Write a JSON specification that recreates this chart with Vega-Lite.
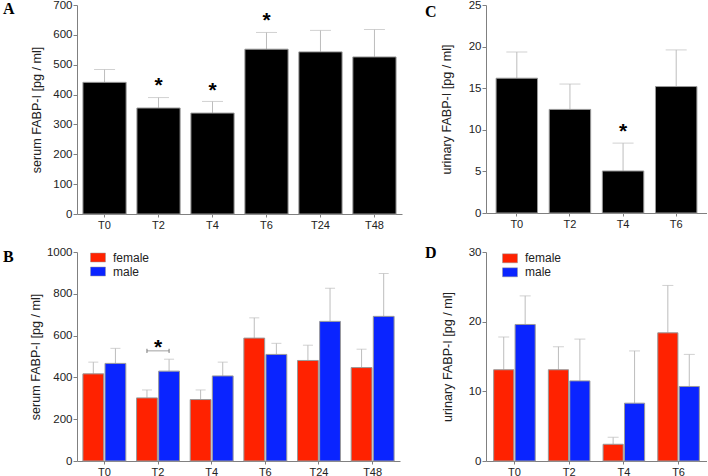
{
  "$schema": "https://vega.github.io/schema/vega-lite/v6.json",
  "padding": {"left": 3, "top": -1, "right": 0, "bottom": 0},
  "background": "white",
  "config": {
    "view": {"stroke": null},
    "axis": {
      "domainColor": "#808080", "tickColor": "#808080", "grid": false,
      "labelFont": "Liberation Sans", "labelFontSize": 11.5, "labelColor": "#222",
      "titleFont": "Liberation Sans", "titleFontSize": 12.6, "titleFontWeight": "normal", "titleColor": "#222",
      "tickSize": 4, "labelPadding": 1, "labelOverlap": false
    },
    "axisY": {"format": "d"},
    "axisX": {"labelAngle": 0, "tickSize": 3, "labelPadding": 2, "labelFontSize": 11},
    "title": {"font": "Liberation Serif", "fontSize": 16, "fontWeight": "bold", "color": "#000", "anchor": "start", "frame": "group", "offset": 0, "baseline": "alphabetic"}
  },
  "datasets": {
    "serumA": [
      {"t": "T0", "v": 441, "e": 484},
      {"t": "T2", "v": 355, "e": 390},
      {"t": "T4", "v": 338, "e": 377},
      {"t": "T6", "v": 552, "e": 608},
      {"t": "T24", "v": 543, "e": 615},
      {"t": "T48", "v": 526, "e": 618}
    ],
    "starsA": [
      {"t": "T2", "y": 448},
      {"t": "T4", "y": 431},
      {"t": "T6", "y": 665}
    ],
    "urineC": [
      {"t": "T0", "v": 16.2, "e": 19.35},
      {"t": "T2", "v": 12.45, "e": 15.5},
      {"t": "T4", "v": 5.05, "e": 8.4},
      {"t": "T6", "v": 15.2, "e": 19.6}
    ],
    "starsC": [
      {"t": "T4", "y": 10.4}
    ],
    "serumB": [
      {"t": "T0", "g": "female", "v": 417, "e": 473},
      {"t": "T0", "g": "male", "v": 467, "e": 539},
      {"t": "T2", "g": "female", "v": 302, "e": 340},
      {"t": "T2", "g": "male", "v": 430, "e": 487},
      {"t": "T4", "g": "female", "v": 294, "e": 340},
      {"t": "T4", "g": "male", "v": 407, "e": 473},
      {"t": "T6", "g": "female", "v": 588, "e": 685},
      {"t": "T6", "g": "male", "v": 510, "e": 563},
      {"t": "T24", "g": "female", "v": 481, "e": 554},
      {"t": "T24", "g": "male", "v": 668, "e": 827},
      {"t": "T48", "g": "female", "v": 447, "e": 535},
      {"t": "T48", "g": "male", "v": 692, "e": 897}
    ],
    "bracketB": [
      {"t": "T2", "g": "female", "y1": 537, "y2": 517},
      {"t": "T2", "g": "male", "y1": 537, "y2": 517}
    ],
    "barB": [
      {"t": "T2", "y": 527}
    ],
    "starsB": [
      {"t": "T2", "y": 570}
    ],
    "urineD": [
      {"t": "T0", "g": "female", "v": 13.1, "e": 17.8},
      {"t": "T0", "g": "male", "v": 19.6, "e": 23.7},
      {"t": "T2", "g": "female", "v": 13.1, "e": 16.4},
      {"t": "T2", "g": "male", "v": 11.5, "e": 17.5},
      {"t": "T4", "g": "female", "v": 2.4, "e": 3.4},
      {"t": "T4", "g": "male", "v": 8.3, "e": 15.8},
      {"t": "T6", "g": "female", "v": 18.4, "e": 25.2},
      {"t": "T6", "g": "male", "v": 10.7, "e": 15.3}
    ]
  },
  "columns": 2,
  "bounds": "flush",
  "align": "each",
  "spacing": {"row": 38, "column": 84},
  "resolve": {"scale": {"x": "independent", "y": "independent", "color": "independent", "xOffset": "independent"}, "legend": {"color": "independent"}},
  "concat": [
    {
      "width": 325, "height": 209,
      "title": {"text": "A", "dx": -74, "dy": 22},
      "layer": [
        {
          "data": {"name": "serumA"},
          "mark": {"type": "rule", "color": "#bdbdbd", "strokeWidth": 1},
          "encoding": {
            "x": {"field": "t", "type": "nominal", "scale": {"domain": ["T0", "T2", "T4", "T6", "T24", "T48"], "paddingInner": 0.2, "paddingOuter": 0.11}, "axis": {"title": null}},
            "y": {"field": "v", "type": "quantitative", "scale": {"domain": [0, 700], "nice": false}, "axis": {"title": "serum FABP-I [pg / ml]", "values": [0, 100, 200, 300, 400, 500, 600, 700], "titlePadding": 9}},
            "y2": {"field": "e"}
          }
        },
        {
          "data": {"name": "serumA"},
          "mark": {"type": "tick", "color": "#bdbdbd", "size": 21, "thickness": 1},
          "encoding": {
            "x": {"field": "t", "type": "nominal"},
            "y": {"field": "e", "type": "quantitative", "axis": {"title": "serum FABP-I [pg / ml]", "values": [0, 100, 200, 300, 400, 500, 600, 700], "titlePadding": 9}}
          }
        },
        {
          "data": {"name": "serumA"},
          "mark": {"type": "bar", "color": "#000", "stroke": "#999", "strokeWidth": 1},
          "encoding": {
            "x": {"field": "t", "type": "nominal"},
            "y": {"field": "v", "type": "quantitative", "axis": {"title": "serum FABP-I [pg / ml]", "values": [0, 100, 200, 300, 400, 500, 600, 700], "titlePadding": 9}}
          }
        },
        {
          "data": {"name": "starsA"},
          "mark": {"type": "text", "text": "*", "font": "Liberation Sans", "fontSize": 21, "fontWeight": "bold", "baseline": "alphabetic", "dy": 12, "color": "#000"},
          "encoding": {
            "x": {"field": "t", "type": "nominal"},
            "y": {"field": "y", "type": "quantitative", "axis": {"title": "serum FABP-I [pg / ml]", "values": [0, 100, 200, 300, 400, 500, 600, 700], "titlePadding": 9}}
          }
        }
      ]
    },
    {
      "width": 221, "height": 208,
      "title": {"text": "C", "dx": -61, "dy": 25},
      "layer": [
        {
          "data": {"name": "urineC"},
          "mark": {"type": "rule", "color": "#bdbdbd", "strokeWidth": 1},
          "encoding": {
            "x": {"field": "t", "type": "nominal", "scale": {"domain": ["T0", "T2", "T4", "T6"], "paddingInner": 0.22, "paddingOuter": 0.19}, "axis": {"title": null}},
            "y": {"field": "v", "type": "quantitative", "scale": {"domain": [0, 25], "nice": false}, "axis": {"title": "urinary FABP-I [pg / ml]", "values": [0, 5, 10, 15, 20, 25], "titlePadding": 15}},
            "y2": {"field": "e"}
          }
        },
        {
          "data": {"name": "urineC"},
          "mark": {"type": "tick", "color": "#bdbdbd", "size": 21, "thickness": 1},
          "encoding": {
            "x": {"field": "t", "type": "nominal"},
            "y": {"field": "e", "type": "quantitative", "axis": {"title": "urinary FABP-I [pg / ml]", "values": [0, 5, 10, 15, 20, 25], "titlePadding": 15}}
          }
        },
        {
          "data": {"name": "urineC"},
          "mark": {"type": "bar", "color": "#000", "stroke": "#999", "strokeWidth": 1},
          "encoding": {
            "x": {"field": "t", "type": "nominal"},
            "y": {"field": "v", "type": "quantitative", "axis": {"title": "urinary FABP-I [pg / ml]", "values": [0, 5, 10, 15, 20, 25], "titlePadding": 15}}
          }
        },
        {
          "data": {"name": "starsC"},
          "mark": {"type": "text", "text": "*", "font": "Liberation Sans", "fontSize": 21, "fontWeight": "bold", "baseline": "alphabetic", "dy": 12, "color": "#000"},
          "encoding": {
            "x": {"field": "t", "type": "nominal"},
            "y": {"field": "y", "type": "quantitative", "axis": {"title": "urinary FABP-I [pg / ml]", "values": [0, 5, 10, 15, 20, 25], "titlePadding": 15}}
          }
        }
      ]
    },
    {
      "width": 323, "height": 209,
      "title": {"text": "B", "dx": -74, "dy": 23},
      "layer": [
        {
          "data": {"name": "serumB"},
          "mark": {"type": "rule", "color": "#bdbdbd", "strokeWidth": 1},
          "encoding": {
            "x": {"field": "t", "type": "nominal", "scale": {"domain": ["T0", "T2", "T4", "T6", "T24", "T48"], "paddingInner": 0.2, "paddingOuter": 0.11}, "axis": {"title": null}},
            "xOffset": {"field": "g", "type": "nominal", "scale": {"domain": ["female", "male"], "paddingInner": 0.06, "paddingOuter": 0}},
            "y": {"field": "v", "type": "quantitative", "scale": {"domain": [0, 1000], "nice": false}, "axis": {"title": "serum FABP-I [pg / ml]", "values": [0, 200, 400, 600, 800, 1000], "titlePadding": 4}},
            "y2": {"field": "e"}
          }
        },
        {
          "data": {"name": "serumB"},
          "mark": {"type": "tick", "color": "#bdbdbd", "size": 10, "thickness": 1},
          "encoding": {
            "x": {"field": "t", "type": "nominal"},
            "xOffset": {"field": "g", "type": "nominal"},
            "y": {"field": "e", "type": "quantitative", "axis": {"title": "serum FABP-I [pg / ml]", "values": [0, 200, 400, 600, 800, 1000], "titlePadding": 4}}
          }
        },
        {
          "data": {"name": "serumB"},
          "mark": {"type": "bar", "stroke": "#999", "strokeWidth": 1},
          "encoding": {
            "x": {"field": "t", "type": "nominal"},
            "xOffset": {"field": "g", "type": "nominal"},
            "y": {"field": "v", "type": "quantitative", "axis": {"title": "serum FABP-I [pg / ml]", "values": [0, 200, 400, 600, 800, 1000], "titlePadding": 4}},
            "color": {"field": "g", "type": "nominal", "scale": {"domain": ["female", "male"], "range": ["#ff2200", "#0a24ff"]},
              "legend": {"orient": "none", "legendX": 13, "legendY": -2.5, "title": null, "symbolType": "M-1,-0.6H1V0.6H-1Z", "symbolSize": 225, "symbolStrokeColor": "#999", "symbolStrokeWidth": 0.5, "labelFont": "Liberation Sans", "labelFontSize": 12, "labelColor": "#222", "rowPadding": 0, "padding": 0, "labelOffset": 7}}
          }
        },
        {
          "data": {"name": "bracketB"},
          "mark": {"type": "rule", "color": "#777", "strokeWidth": 1},
          "encoding": {
            "x": {"field": "t", "type": "nominal"},
            "xOffset": {"field": "g", "type": "nominal"},
            "y": {"field": "y1", "type": "quantitative", "axis": {"title": "serum FABP-I [pg / ml]", "values": [0, 200, 400, 600, 800, 1000], "titlePadding": 4}},
            "y2": {"field": "y2"}
          }
        },
        {
          "data": {"name": "barB"},
          "mark": {"type": "tick", "color": "#777", "size": 22, "thickness": 1},
          "encoding": {
            "x": {"field": "t", "type": "nominal"},
            "y": {"field": "y", "type": "quantitative", "axis": {"title": "serum FABP-I [pg / ml]", "values": [0, 200, 400, 600, 800, 1000], "titlePadding": 4}}
          }
        },
        {
          "data": {"name": "starsB"},
          "mark": {"type": "text", "text": "*", "font": "Liberation Sans", "fontSize": 21, "fontWeight": "bold", "baseline": "alphabetic", "dy": 12, "color": "#000"},
          "encoding": {
            "x": {"field": "t", "type": "nominal"},
            "y": {"field": "y", "type": "quantitative", "axis": {"title": "serum FABP-I [pg / ml]", "values": [0, 200, 400, 600, 800, 1000], "titlePadding": 4}}
          }
        }
      ]
    },
    {
      "width": 221, "height": 209,
      "title": {"text": "D", "dx": -61, "dy": 19},
      "layer": [
        {
          "data": {"name": "urineD"},
          "mark": {"type": "rule", "color": "#bdbdbd", "strokeWidth": 1},
          "encoding": {
            "x": {"field": "t", "type": "nominal", "scale": {"domain": ["T0", "T2", "T4", "T6"], "paddingInner": 0.24, "paddingOuter": 0.14}, "axis": {"title": null}},
            "xOffset": {"field": "g", "type": "nominal", "scale": {"domain": ["female", "male"], "paddingInner": 0.06, "paddingOuter": 0}},
            "y": {"field": "v", "type": "quantitative", "scale": {"domain": [0, 30], "nice": false}, "axis": {"title": "urinary FABP-I [pg / ml]", "values": [0, 10, 20, 30], "titlePadding": 14}},
            "y2": {"field": "e"}
          }
        },
        {
          "data": {"name": "urineD"},
          "mark": {"type": "tick", "color": "#bdbdbd", "size": 11, "thickness": 1},
          "encoding": {
            "x": {"field": "t", "type": "nominal"},
            "xOffset": {"field": "g", "type": "nominal"},
            "y": {"field": "e", "type": "quantitative", "axis": {"title": "urinary FABP-I [pg / ml]", "values": [0, 10, 20, 30], "titlePadding": 14}}
          }
        },
        {
          "data": {"name": "urineD"},
          "mark": {"type": "bar", "stroke": "#999", "strokeWidth": 1},
          "encoding": {
            "x": {"field": "t", "type": "nominal"},
            "xOffset": {"field": "g", "type": "nominal"},
            "y": {"field": "v", "type": "quantitative", "axis": {"title": "urinary FABP-I [pg / ml]", "values": [0, 10, 20, 30], "titlePadding": 14}},
            "color": {"field": "g", "type": "nominal", "scale": {"domain": ["female", "male"], "range": ["#ff2200", "#0a24ff"]},
              "legend": {"orient": "none", "legendX": 16, "legendY": -1.7, "title": null, "symbolType": "M-1,-0.6H1V0.6H-1Z", "symbolSize": 225, "symbolStrokeColor": "#999", "symbolStrokeWidth": 0.5, "labelFont": "Liberation Sans", "labelFontSize": 12, "labelColor": "#222", "rowPadding": 0, "padding": 0, "labelOffset": 7}}
          }
        }
      ]
    }
  ]
}
